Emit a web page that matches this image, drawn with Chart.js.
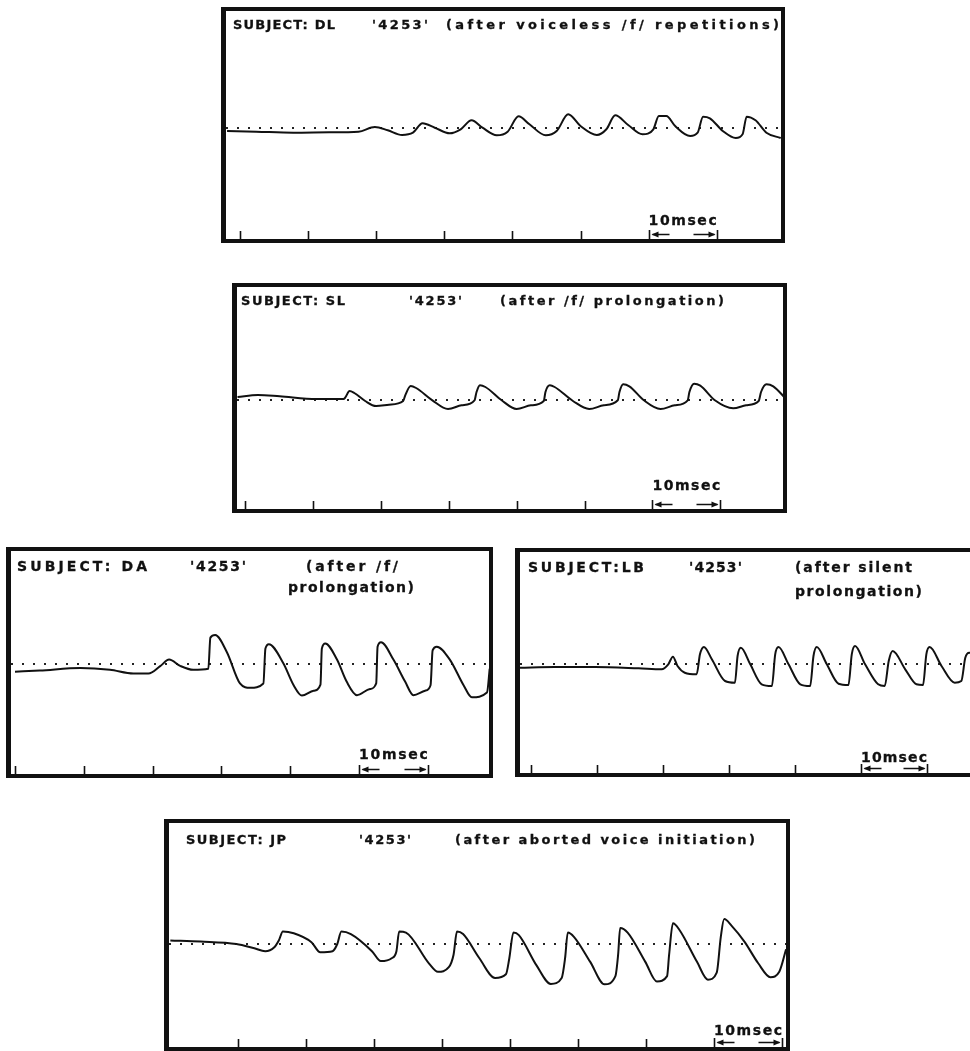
<!DOCTYPE html>
<html>
<head>
<meta charset="utf-8">
<title>4253 glottal waveforms</title>
<script src="https://cdn.jsdelivr.net/npm/chart.js@4.4.1/dist/chart.umd.min.js"></script>
<style>
  html, body { margin: 0; padding: 0; background: #fff; }
  body { position: relative; width: 970px; height: 1051px; overflow: hidden; }
  .panel { position: absolute; box-sizing: border-box; border: 4px solid #111; border-left-width: 5px; background: #fff; }
  .panel canvas { position: absolute; left: 0; top: 0; }
  .txt { position: absolute; font-family: "DejaVu Sans", "Liberation Sans", sans-serif; font-weight: bold; color: #111; white-space: pre; line-height: 1; -webkit-text-stroke: 0.3px #111; }
</style>
</head>
<body>
<script>
// time in ms (tick marks every 10 ms), amplitude relative to the dotted baseline

// SUBJECT: DL
const dlTime = [-1.9, 2.4, 7.8, 13.1, 17.4, 19.8, 21.7, 23.8, 25.4, 26.8, 28.6, 30.8, 32.4, 34.0, 35.6, 37.7, 39.3, 40.9, 42.5, 44.9, 46.5, 48.2, 50.0, 52.4, 53.8, 55.1, 57.0, 59.1, 60.7, 61.5, 62.6, 63.9, 66.1, 67.2, 68.0, 69.0, 70.9, 72.8, 73.8, 74.4, 75.7, 77.3, 79.4];
const dlAmp  = [-3, -3.7, -4.7, -4.3, -3.7, 1, -2.3, -7, -4.7, 4.7, 0.3, -5.3, -1.3, 7.7, 0.3, -7.3, -3.7, 11.7, 3.7, -7.3, -3, 13.7, 2, -7, -1.3, 12.7, 3, -6.3, -1.3, 12, 12, 2, -8, -4.7, 11.3, 9.7, -3, -10, -6.3, 11.3, 7.7, -4.7, -10];

// SUBJECT: SL
const slTime = [-1.1, 1.9, 5.1, 10.5, 14.5, 14.75, 15.4, 16.1, 17.7, 19.3, 21.2, 23.3, 23.6, 24.4, 25.2, 27.6, 29.9, 31.9, 33.8, 34.1, 34.6, 35.4, 37.8, 40.0, 42.1, 44.0, 44.25, 44.9, 45.6, 48.3, 50.7, 52.85, 54.9, 55.15, 55.7, 56.6, 58.75, 61.2, 63.3, 65.2, 65.45, 66.15, 67.05, 69.2, 71.9, 73.8, 75.65, 76.0, 76.8, 77.8, 79.65];
const slAmp  = [3, 5, 3.7, 1, 1, 2.3, 9, 7, -1, -6, -4.7, -1, 4.7, 14, 12, -0.3, -9, -5.3, -0.3, 8, 14.7, 13, -0.3, -9, -5.3, -1, 8, 14.7, 13, -1, -9, -5.3, -0.3, 8, 15.7, 13.7, -0.3, -9, -5.3, -0.3, 8, 16.3, 14.3, -0.3, -8.3, -5.3, -1, 8, 15.7, 13.7, 1.3];

// SUBJECT: DA
const daTime = [0, 3.6, 9.5, 13.8, 17.2, 19.4, 21.1, 22.4, 24.0, 25.9, 28.1, 28.4, 29.1, 30.8, 32.7, 34.2, 36.1, 36.4, 36.9, 39.0, 40.5, 41.7, 43.4, 44.4, 44.6, 45.1, 46.8, 48.2, 49.7, 51.6, 52.5, 52.7, 53.2, 55.0, 56.7, 57.9, 59.6, 60.4, 60.7, 61.3, 63.2, 65.2, 66.4, 68.6, 69.0];
const daAmp  = [-7, -6, -3.7, -5.3, -8.7, -8.7, -2, 4, -1.7, -5.3, -4.3, 24, 26.3, 10.7, -17.7, -21.7, -17.7, 14, 18, 0.7, -19.3, -28.7, -24.3, -18.7, 14, 18.7, 4, -16, -28.3, -22.7, -17.7, 15.7, 19.7, 4, -16, -28.3, -24.3, -19.3, 12.3, 15.7, 4, -19.3, -30.3, -26, -4.3];

// SUBJECT: LB
const lbTime = [-1.7, 3.6, 9.7, 16.3, 19.8, 20.8, 21.5, 22.2, 23.3, 25.1, 25.6, 26.2, 27.4, 29.4, 30.9, 31.3, 31.8, 33.2, 34.95, 36.5, 37.0, 37.5, 39.0, 40.8, 42.3, 42.8, 43.3, 44.8, 46.6, 48.1, 48.6, 49.1, 50.6, 52.6, 53.6, 54.2, 54.8, 56.7, 58.4, 59.4, 59.9, 60.4, 62.2, 64.2, 65.2, 65.8, 66.4, 68.2];
const lbAmp  = [-3.7, -3, -3, -4.3, -5.3, -0.3, 7.3, -2, -8.7, -10.3, 9.7, 17, 4.7, -17, -18.7, 8, 16.3, 0, -20.3, -22, 9.7, 17, 0, -20.3, -22, 8, 17, 0, -19.7, -21, 9.7, 18, 0, -20.3, -22, 3, 13, -5.3, -20.3, -21, 9.7, 17, -2, -18.7, -17, 6.3, 11.3, 10];

// SUBJECT: JP
const jpTime = [-9.95, -5.5, -0.24, 2.4, 4.0, 5.3, 6.0, 6.6, 8.2, 10.8, 12.1, 13.9, 14.6, 15.2, 16.6, 19.7, 21.0, 22.6, 23.3, 23.7, 24.7, 28.1, 29.4, 31.0, 31.7, 32.2, 33.1, 35.5, 37.8, 39.4, 39.9, 40.5, 41.3, 43.9, 46.0, 47.6, 48.1, 48.5, 49.4, 51.8, 53.9, 55.5, 55.9, 56.2, 57.3, 59.9, 61.6, 63.1, 63.4, 63.96, 64.9, 67.5, 69.1, 70.4, 71.0, 71.5, 72.6, 74.5, 76.5, 78.3, 79.6, 80.6];
const jpAmp  = [3.3, 2.3, 0, -4, -6.7, -3.3, 3.3, 11.7, 10, 1.7, -7.7, -6.7, 0, 11.7, 9.3, -6.7, -16, -13.3, -6.7, 11.7, 10.7, -18.3, -26, -21.7, -10, 11.7, 9.3, -13.3, -31.7, -28.3, -13.3, 10.7, 8.3, -20, -37.3, -31.7, -13.3, 10.7, 6.7, -16.7, -37.7, -30, -10, 15, 10.7, -16.7, -35, -30, -10, 19.3, 13.3, -16.7, -33.3, -26.7, 6.7, 23.3, 17, 2, -18, -31, -26, -5];

// tick marks (ms) and the 10 msec scale bar
const ticks6 = [0, 10, 20, 30, 40, 50];
const ticks5 = [0, 10, 20, 30, 40];
const ticks7 = [0, 10, 20, 30, 40, 50, 60];

const panels = [
  { box: [221, 7, 564, 236], tick0: 240, px10: 68.1, base: 128, ampPx: 1, time: dlTime, amp: dlAmp, ticks: ticks6, bar: [60, 70], msecTop: 215, msecSize: 14,
    size: 13, titles: [["SUBJECT: DL", 233, 20, 102], ["'4253'", 372, 20, 56], ["(after voiceless /f/ repetitions)", 446, 20, 333]] },
  { box: [232, 283, 555, 230], tick0: 245, px10: 67.9, base: 400, ampPx: 1, time: slTime, amp: slAmp, ticks: ticks6, bar: [60, 70], msecTop: 480, msecSize: 14,
    size: 13, titles: [["SUBJECT: SL", 241, 296, 104], ["'4253'", 409, 296, 53], ["(after /f/ prolongation)", 500, 296, 224]] },
  { box: [6, 547, 487, 231], tick0: 15, px10: 68.8, base: 664, ampPx: 1.1, time: daTime, amp: daAmp, ticks: ticks5, bar: [50, 60], msecTop: 749, msecSize: 14,
    size: 14, titles: [["SUBJECT: DA", 17, 561, 130], ["'4253'", 190, 561, 56], ["(after /f/", 306, 561, 92], ["prolongation)", 288, 582, 126]] },
  { box: [515, 548, 470, 229], tick0: 531, px10: 66, base: 664, ampPx: 1, time: lbTime, amp: lbAmp, ticks: ticks5, bar: [50, 60], msecTop: 752, msecSize: 14,
    size: 14, titles: [["SUBJECT:LB", 528, 562, 116], ["'4253'", 689, 562, 53], ["(after silent", 795, 562, 117], ["prolongation)", 795, 586, 127]] },
  { box: [164, 819, 626, 232], tick0: 238, px10: 68, base: 944, ampPx: 1.07, time: jpTime, amp: jpAmp, ticks: ticks7, bar: [70, 80], msecTop: 1025, msecSize: 14,
    size: 13, titles: [["SUBJECT: JP", 186, 835, 100], ["'4253'", 359, 835, 52], ["(after aborted voice initiation)", 455, 835, 300]] },
];

// little upward ticks on the bottom edge plus the |<-  ->| bar
const scopeTicks = {
  id: 'scopeTicks',
  afterDatasetsDraw(chart, args, opts) {
    const ctx = chart.ctx, xs = chart.scales.x;
    const bottom = chart.height;
    ctx.save();
    ctx.strokeStyle = '#111';
    ctx.fillStyle = '#111';
    ctx.lineWidth = 1.6;
    ctx.beginPath();
    opts.ticks.forEach(t => {
      const px = Math.round(xs.getPixelForValue(t)) + 0.5;
      ctx.moveTo(px, bottom);
      ctx.lineTo(px, bottom - 8);
    });
    const a = Math.round(xs.getPixelForValue(opts.bar[0])) + 0.5;
    const b = Math.round(xs.getPixelForValue(opts.bar[1])) + 0.5;
    const ay = bottom - 4.5;
    ctx.moveTo(a, bottom); ctx.lineTo(a, bottom - 9);
    ctx.moveTo(b, bottom); ctx.lineTo(b, bottom - 9);
    ctx.moveTo(a + 3, ay); ctx.lineTo(a + 20, ay);
    ctx.moveTo(b - 24, ay); ctx.lineTo(b - 3, ay);
    ctx.stroke();
    ctx.beginPath();
    ctx.moveTo(a + 2, ay); ctx.lineTo(a + 9, ay - 3); ctx.lineTo(a + 9, ay + 3); ctx.closePath();
    ctx.moveTo(b - 2, ay); ctx.lineTo(b - 9, ay - 3); ctx.lineTo(b - 9, ay + 3); ctx.closePath();
    ctx.fill();
    ctx.restore();
  }
};

function addText(str, left, capTop, size, width) {
  const el = document.createElement('div');
  el.className = 'txt';
  el.textContent = str;
  el.style.fontSize = size + 'px';
  el.style.left = left + 'px';
  el.style.top = (capTop - 0.15 * size) + 'px';
  document.body.appendChild(el);
  const w = el.getBoundingClientRect().width;
  el.style.letterSpacing = ((width - w) / Math.max(1, str.length - 1)) + 'px';
}

function makePanel(p) {
  const [left, top, w, h] = p.box;
  const div = document.createElement('div');
  div.className = 'panel';
  div.style.left = left + 'px';
  div.style.top = top + 'px';
  div.style.width = w + 'px';
  div.style.height = h + 'px';
  document.body.appendChild(div);

  const innerL = left + 5, innerT = top + 4;
  const cw = w - 9, ch = h - 8;
  const cv = document.createElement('canvas');
  cv.width = cw;
  cv.height = ch;
  div.appendChild(cv);

  const pxPerMs = p.px10 / 10;
  const xMin = (innerL - p.tick0) / pxPerMs;
  const xMax = (innerL + cw - p.tick0) / pxPerMs;
  const yMax = (p.base - innerT) / p.ampPx;
  const yMin = (p.base - (innerT + ch)) / p.ampPx;

  const chart = new Chart(cv, {
    type: 'line',
    data: {
      datasets: [
        {
          data: p.time.map((t, i) => ({x: t, y: p.amp[i]})),
          borderColor: '#111',
          borderWidth: 2,
          pointRadius: 0,
          cubicInterpolationMode: 'monotone',
          fill: false,
        },
        {
          data: [{x: xMin, y: 0}, {x: xMax, y: 0}],
          borderColor: '#222',
          borderWidth: 2,
          borderDash: [2, 9],
          pointRadius: 0,
          fill: false,
        },
      ]
    },
    options: {
      responsive: false,
      animation: false,
      events: [],
      layout: { padding: 0 },
      scales: {
        x: { type: 'linear', min: xMin, max: xMax, display: false },
        y: { type: 'linear', min: yMin, max: yMax, display: false },
      },
      plugins: {
        legend: { display: false },
        tooltip: { enabled: false },
        scopeTicks: { ticks: p.ticks, bar: p.bar },
      }
    },
    plugins: [scopeTicks]
  });

  p.titles.forEach(t => addText(t[0], t[1], t[2], p.size, t[3]));
  const xs = chart.scales.x;
  const a = xs.getPixelForValue(p.bar[0]), b = xs.getPixelForValue(p.bar[1]);
  addText('10msec', innerL + a, p.msecTop, p.msecSize, b - a);
}

panels.forEach(makePanel);
</script>
</body>
</html>
